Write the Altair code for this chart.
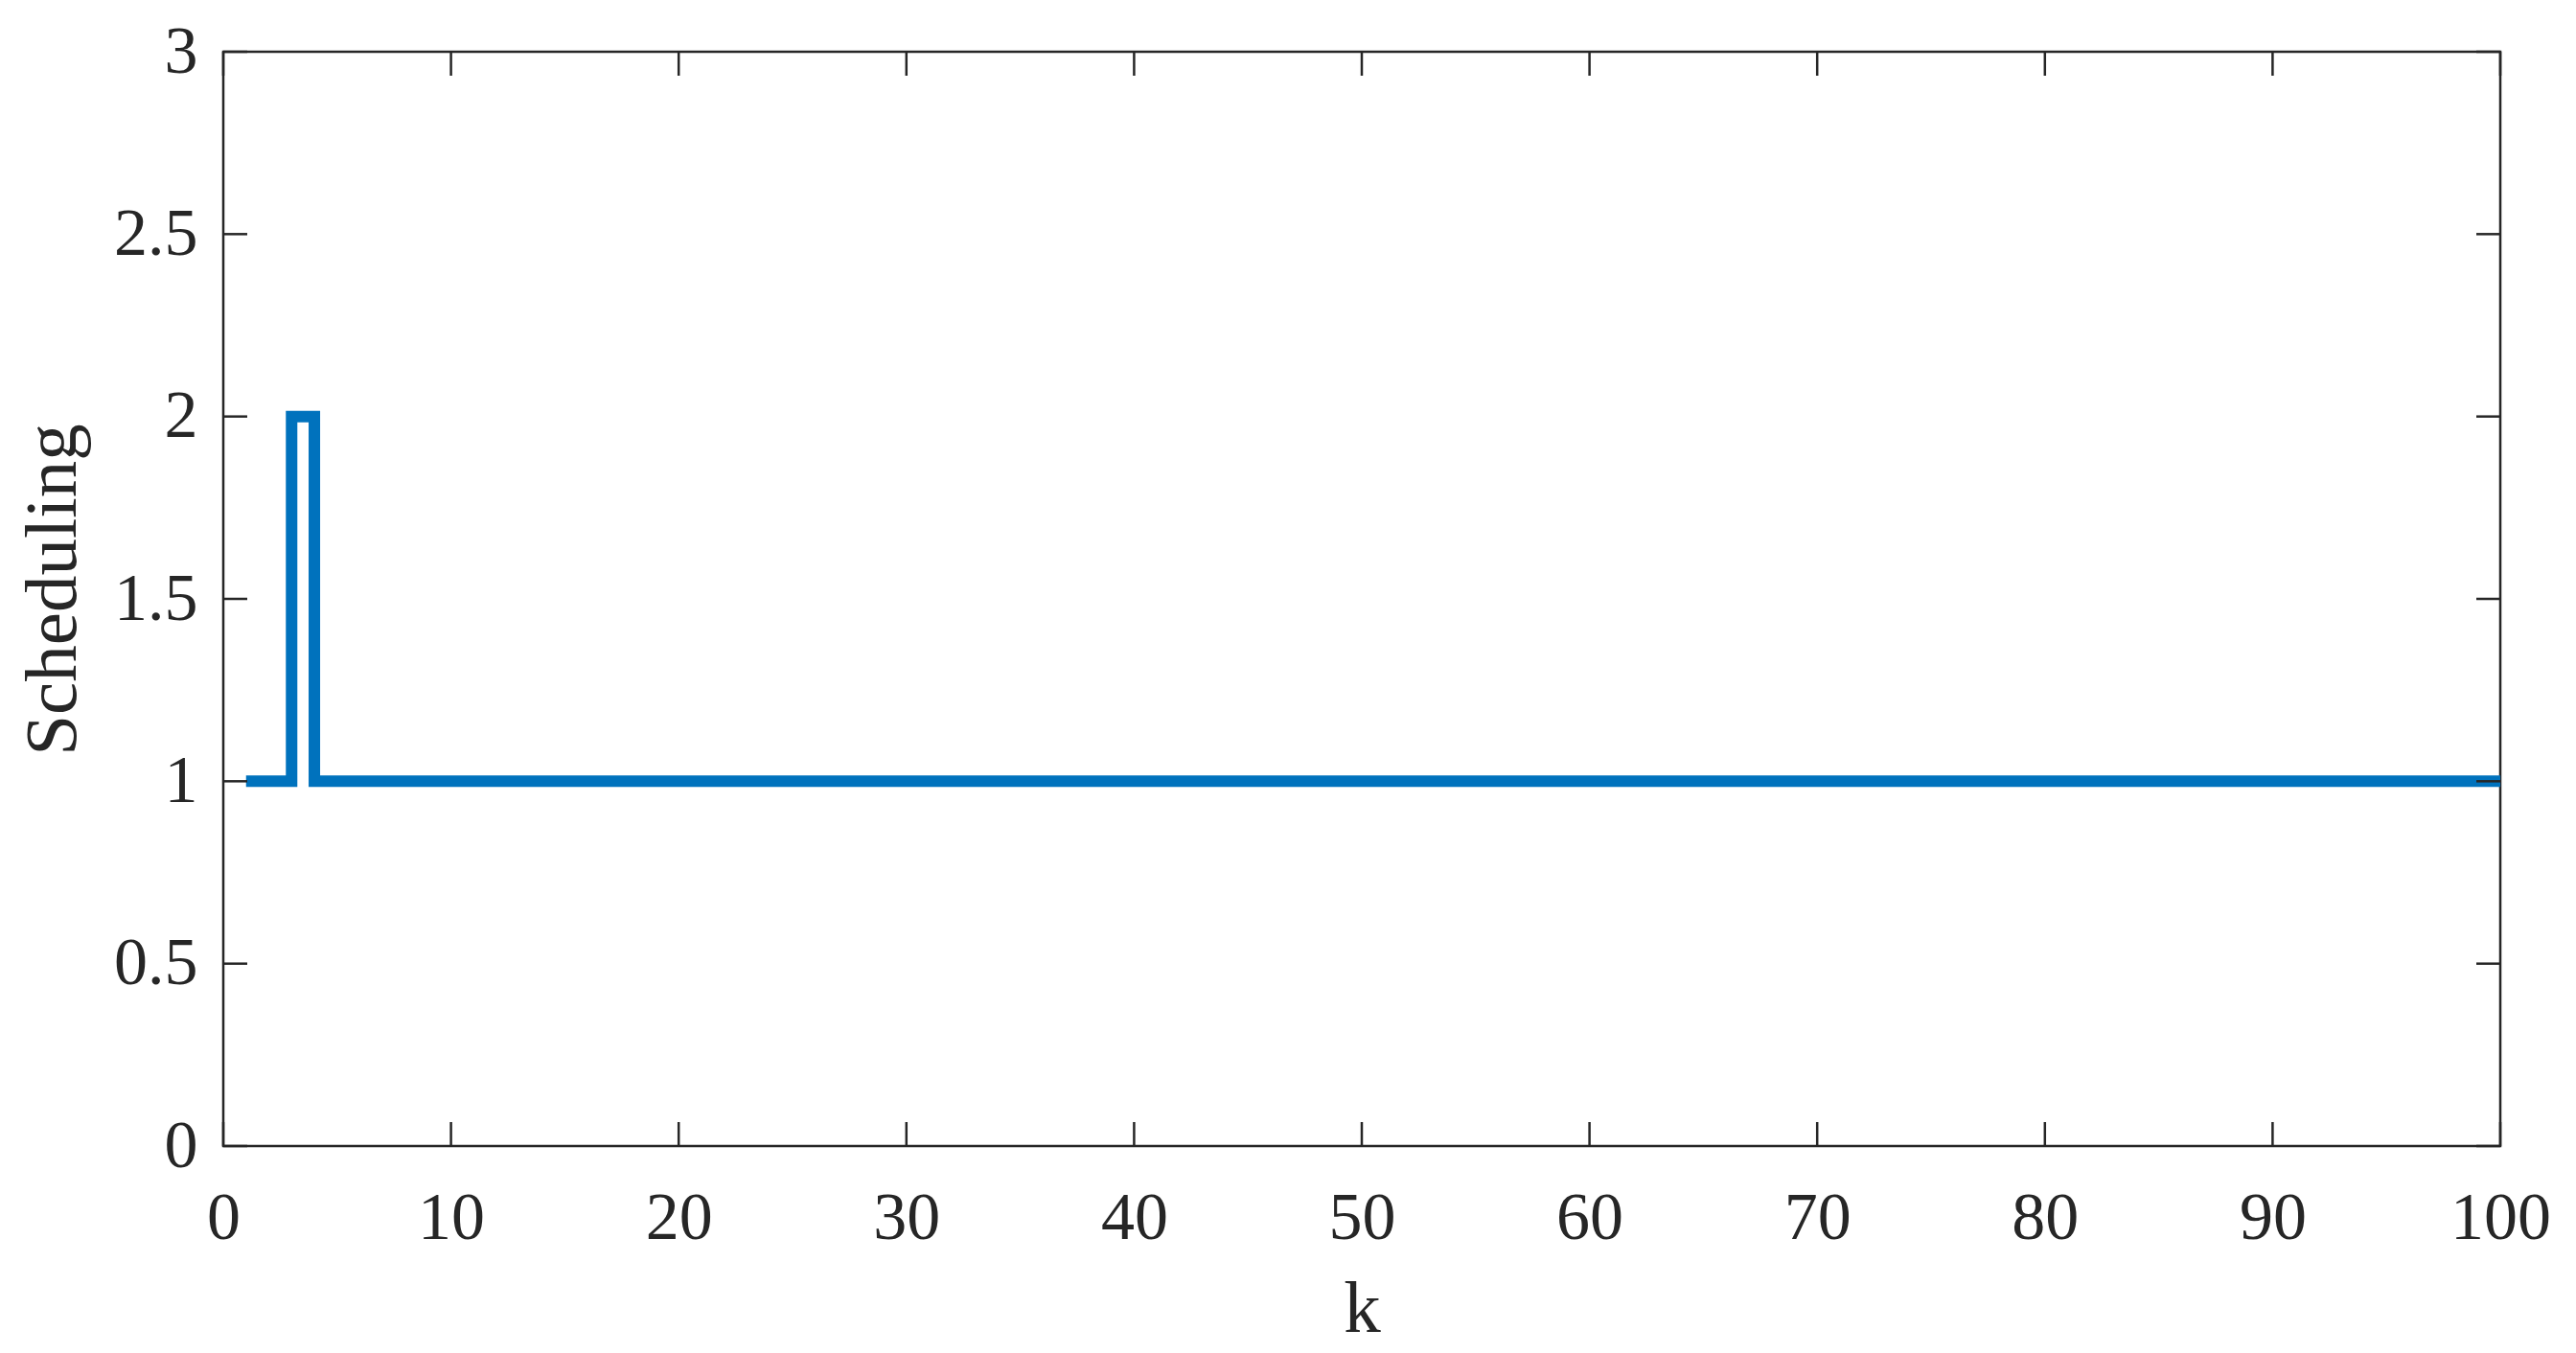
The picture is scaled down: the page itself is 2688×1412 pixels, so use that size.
import altair as alt
import pandas as pd

# ---- data ----
k_values = list(range(1, 101))
scheduling = [
    1, 1, 2, 1, 1, 1, 1, 1, 1, 1,
    1, 1, 1, 1, 1, 1, 1, 1, 1, 1,
    1, 1, 1, 1, 1, 1, 1, 1, 1, 1,
    1, 1, 1, 1, 1, 1, 1, 1, 1, 1,
    1, 1, 1, 1, 1, 1, 1, 1, 1, 1,
    1, 1, 1, 1, 1, 1, 1, 1, 1, 1,
    1, 1, 1, 1, 1, 1, 1, 1, 1, 1,
    1, 1, 1, 1, 1, 1, 1, 1, 1, 1,
    1, 1, 1, 1, 1, 1, 1, 1, 1, 1,
    1, 1, 1, 1, 1, 1, 1, 1, 1, 1,
]
x_ticks = [0, 10, 20, 30, 40, 50, 60, 70, 80, 90, 100]
y_ticks = [0, 0.5, 1, 1.5, 2, 2.5, 3]

W, H = 2376, 1142
TICK = 25
INK = "#262626"
FONT = "Liberation Serif"

df = pd.DataFrame({"k": k_values, "s": scheduling})
xt = pd.DataFrame({"k": x_ticks})
yt = pd.DataFrame({"s": y_ticks})

xs = alt.Scale(domain=[0, 100], nice=False, zero=False)
ys = alt.Scale(domain=[0, 3], nice=False, zero=False)

x_axis = alt.Axis(
    values=x_ticks, tickSize=0, domain=False, grid=False, format="d",
    labelFont=FONT, labelFontSize=70, labelColor=INK,
    labelBaseline="alphabetic", labelPadding=96,
    labelFlush=False, labelOverlap=False, labelBound=False,
    title="k", titleFont=FONT, titleFontSize=77, titleFontWeight="normal",
    titleColor=INK, titleBaseline="alphabetic", titleY=193, titleX=W / 2,
    titleAnchor="middle", titleAlign="center",
)
y_axis = alt.Axis(
    values=y_ticks, tickSize=0, domain=False, grid=False, format="~g",
    labelFont=FONT, labelFontSize=70, labelColor=INK,
    labelPadding=27, labelFlush=False, labelOverlap=False, labelBound=False,
    title="Scheduling", titleFont=FONT, titleFontSize=77, titleFontWeight="normal",
    titleColor=INK, titleAngle=270, titleBaseline="alphabetic",
    titleX=-155, titleY=561, titleAlign="center",
)

line = alt.Chart(df).mark_line(
    interpolate="step-after", color="#0072BD", strokeWidth=12,
    strokeJoin="miter", strokeCap="butt", clip=True,
).encode(
    x=alt.X("k:Q", scale=xs, axis=x_axis),
    y=alt.Y("s:Q", scale=ys, axis=y_axis),
)

tick_style = dict(color=INK, strokeWidth=2.5)
xb = alt.Chart(xt).mark_rule(**tick_style).encode(
    x=alt.X("k:Q", scale=xs), y=alt.value(H), y2=alt.value(H - TICK))
xtop = alt.Chart(xt).mark_rule(**tick_style).encode(
    x=alt.X("k:Q", scale=xs), y=alt.value(0), y2=alt.value(TICK))
yl = alt.Chart(yt).mark_rule(**tick_style).encode(
    y=alt.Y("s:Q", scale=ys), x=alt.value(0), x2=alt.value(TICK))
yr = alt.Chart(yt).mark_rule(**tick_style).encode(
    y=alt.Y("s:Q", scale=ys), x=alt.value(W), x2=alt.value(W - TICK))

chart = alt.layer(line, xb, xtop, yl, yr).properties(
    width=W, height=H,
    autosize=alt.AutoSizeParams(type="none"),
    padding={"left": 225, "top": 46, "right": 60, "bottom": 212},
    background="white",
).configure_view(stroke=INK, strokeWidth=2.5)

chart.save("out.html", embed_options={"renderer": "svg", "actions": False})
